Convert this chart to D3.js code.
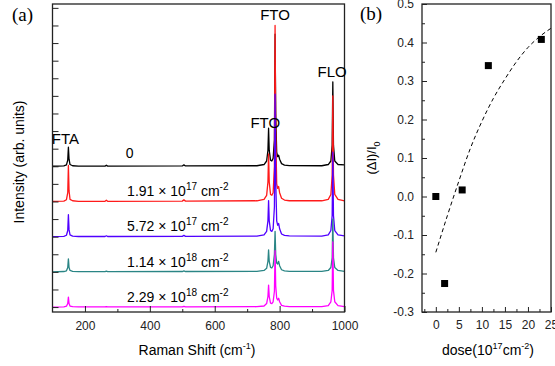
<!DOCTYPE html>
<html>
<head>
<meta charset="utf-8">
<script src="https://cdn.jsdelivr.net/npm/d3@7"></script>
<style>
  body { margin: 0; background: #fff; }
  text { font-family: "Liberation Sans", Arial, sans-serif; }
</style>
</head>
<body>
<div id="chart"></div>
<script>
// Raman shift grid (cm-1) shared by all spectra
var shift = [100, 135, 143, 147, 149, 151, 154, 162, 180,
             262, 266, 270, 500, 505, 510,
             730, 752, 760, 764, 766, 768, 772, 776, 780, 784, 786, 788, 791, 794, 797, 800, 806, 815, 830,
             930, 950, 958, 962, 964, 966, 970, 980, 1000];

// intensities above each spectrum's own baseline
var spec0 = [0, 0.02, 0.08, 0.35, 1.08, 0.4, 0.1, 0.03, 0.01,
             0.01, 0.06, 0.01, 0.02, 0.08, 0.02,
             0.03, 0.1, 0.3, 0.9, 2.16, 0.9, 0.35, 0.3, 0.45, 1.5, 7.5, 3.0, 0.8, 0.55, 0.63, 0.4, 0.15, 0.07, 0.04,
             0.03, 0.1, 0.3, 1.2, 4.8, 1.2, 0.3, 0.1, 0.08];
var spec191 = [0, 0.02, 0.1, 0.5, 2.05, 0.6, 0.12, 0.04, 0.01,
               0.01, 0.07, 0.01, 0.02, 0.09, 0.02,
               0.04, 0.12, 0.35, 1.1, 2.7, 1.1, 0.4, 0.35, 0.5, 2.0, 10, 4.0, 1.0, 0.75, 0.85, 0.5, 0.18, 0.08, 0.04,
               0.04, 0.12, 0.4, 1.5, 6.0, 1.5, 0.4, 0.12, 0.04];
var spec572 = [0, 0.02, 0.08, 0.35, 1.25, 0.4, 0.1, 0.03, 0.01,
               0.01, 0.05, 0.01, 0.02, 0.07, 0.02,
               0.03, 0.1, 0.3, 0.9, 2.05, 0.9, 0.35, 0.3, 0.45, 1.7, 8.1, 3.2, 0.9, 0.65, 0.75, 0.45, 0.15, 0.07, 0.04,
               0.03, 0.1, 0.35, 1.2, 4.8, 1.2, 0.35, 0.1, 0.04];
var spec114 = [0, 0.02, 0.06, 0.25, 0.74, 0.25, 0.08, 0.03, 0.01,
               0.01, 0.04, 0.01, 0.02, 0.05, 0.02,
               0.03, 0.08, 0.2, 0.6, 1.25, 0.6, 0.25, 0.22, 0.35, 1.0, 2.3, 1.0, 0.5, 0.45, 0.6, 0.35, 0.12, 0.06, 0.03,
               0.03, 0.08, 0.25, 0.8, 3.0, 0.8, 0.25, 0.08, 0.03];
var spec229 = [0, 0.01, 0.05, 0.2, 0.57, 0.2, 0.06, 0.02, 0.01,
               0.01, 0.03, 0.01, 0.01, 0.04, 0.01,
               0.02, 0.06, 0.2, 0.6, 1.25, 0.6, 0.22, 0.2, 0.3, 0.9, 3.2, 1.2, 0.5, 0.4, 0.5, 0.3, 0.1, 0.05, 0.03,
               0.02, 0.08, 0.3, 0.95, 3.7, 0.95, 0.3, 0.08, 0.03];

var spectra = [spec0, spec191, spec572, spec114, spec229];
var offsets = [8, 6, 4, 2, 0];
var colors = ["#000000", "#ff1a1a", "#5000ff", "#2a8585", "#ff00ff"];
var doseMant = ["1.91", "5.72", "1.14", "2.29"];
var doseExp = ["17", "17", "18", "18"];

// panel (b)
var dose = [0, 1.91, 5.72, 11.4, 22.9];
var ratio = [0, -0.226, 0.017, 0.34, 0.408];
var fitDose = [0, 2.5, 5, 7.5, 10, 12.5, 15, 17.5, 20, 22.5, 25];
var fitRatio = [-0.145, -0.05, 0.04, 0.125, 0.195, 0.255, 0.305, 0.35, 0.387, 0.415, 0.437];

var W = 555, H = 366;
var svg = d3.select("#chart").append("svg")
    .attr("width", W)
    .attr("height", H);

// ---------- panel (a) ----------
var x = d3.scaleLinear().domain([100, 1000]).range([52.5, 344.5]);
var y = d3.scaleLinear().domain([-0.28, 17.22]).range([312, 4]);

var line = d3.line()
    .x(function(d) { return x(d[0]); })
    .y(function(d) { return y(d[1]); });

spectra.forEach(function(s, i) {
  var pts = shift.map(function(v, j) { return [v, s[j] + offsets[i]]; });
  svg.append("path")
    .datum(pts)
    .attr("fill", "none")
    .attr("stroke", colors[i])
    .attr("stroke-width", 1.3)
    .attr("stroke-linejoin", "round")
    .attr("d", line);
});

svg.append("g").attr("transform", "translate(0,312)")
    .call(d3.axisBottom(x).tickValues([200, 400, 600, 800, 1000]).tickSize(-6).tickPadding(9)
      .tickFormat(d3.format("d")));
svg.append("g").attr("transform", "translate(0,312)")
    .call(d3.axisBottom(x).tickValues([300, 500, 700, 900]).tickSize(-3).tickFormat(""));
svg.append("g").attr("transform", "translate(52.5,0)")
    .call(d3.axisLeft(y).tickValues(d3.range(0, 18)).tickSize(-6).tickFormat(""));

svg.append("rect")
    .attr("x", x(100)).attr("y", y(17.22))
    .attr("width", x(1000) - x(100)).attr("height", y(-0.28) - y(17.22))
    .attr("fill", "none").attr("stroke", "#222").attr("stroke-width", 1.3);

// peak labels
var pk = [["FTA", 140, 9.25], ["FTO", 756, 10.15], ["FTO", 786, 16.3], ["FLO", 962, 13.1]];
pk.forEach(function(p) {
  svg.append("text")
    .attr("x", x(p[1])).attr("y", y(p[2]))
    .attr("text-anchor", "middle")
    .attr("font-size", 15)
    .text(p[0]);
});

svg.append("text")
    .attr("x", x(338)).attr("y", y(8.45))
    .attr("text-anchor", "middle")
    .attr("font-size", 14)
    .text("0");

doseMant.forEach(function(m, i) {
  var t = svg.append("text")
    .attr("x", x(330)).attr("y", y(offsets[i + 1] + 0.3))
    .attr("font-size", 14);
  t.append("tspan").text(m + " \u00d7 10");
  t.append("tspan").attr("dy", -6).attr("font-size", 10).text(doseExp[i]);
  t.append("tspan").attr("dy", 6).text(" cm");
  t.append("tspan").attr("dy", -6).attr("font-size", 10).text("-2");
});

svg.append("text")
    .attr("transform", "translate(24,162) rotate(-90)")
    .attr("text-anchor", "middle")
    .attr("font-size", 14)
    .text("Intensity (arb. units)");

var xl = svg.append("text")
    .attr("x", 197).attr("y", 355)
    .attr("text-anchor", "middle")
    .attr("font-size", 14);
xl.append("tspan").text("Raman Shift (cm");
xl.append("tspan").attr("dy", -6).attr("font-size", 9).text("-1");
xl.append("tspan").attr("dy", 6).text(")");

svg.append("text")
    .attr("x", 12).attr("y", 21)
    .attr("font-size", 19)
    .style("font-family", "'Liberation Serif', 'Times New Roman', serif")
    .text("(a)");

// ---------- panel (b) ----------
var xb = d3.scaleLinear().domain([-3, 25]).range([422, 551]);
var yb = d3.scaleLinear().domain([-0.3, 0.5]).range([312, 4]);

svg.append("g").attr("transform", "translate(0,312)")
    .call(d3.axisBottom(xb).tickValues([0, 5, 10, 15, 20, 25]).tickSize(-5).tickPadding(8));
svg.append("g").attr("transform", "translate(0,312)")
    .call(d3.axisBottom(xb).tickValues([-2.5, 2.5, 7.5, 12.5, 17.5, 22.5]).tickSize(-3).tickFormat(""));
svg.append("g").attr("transform", "translate(422,0)")
    .call(d3.axisLeft(yb).tickValues(d3.range(-3, 6).map(function(d) { return d / 10; }))
      .tickSize(-5).tickPadding(8).tickFormat(function(d) { return d.toFixed(1); }));
svg.append("g").attr("transform", "translate(422,0)")
    .call(d3.axisLeft(yb).tickValues(d3.range(-3, 5).map(function(d) { return d / 10 + 0.05; }))
      .tickSize(-3).tickFormat(""));

svg.append("rect")
    .attr("x", xb(-3)).attr("y", yb(0.5))
    .attr("width", xb(25) - xb(-3)).attr("height", yb(-0.3) - yb(0.5))
    .attr("fill", "none").attr("stroke", "#222").attr("stroke-width", 1.3);

svg.append("path")
    .datum(fitDose.map(function(d, i) { return [d, fitRatio[i]]; }))
    .attr("fill", "none")
    .attr("stroke", "#000")
    .attr("stroke-width", 1)
    .attr("stroke-dasharray", "4,3")
    .attr("d", d3.line()
      .x(function(d) { return xb(d[0]); })
      .y(function(d) { return yb(d[1]); })
      .curve(d3.curveMonotoneX));

svg.selectAll(".pt")
    .data(dose)
    .enter()
    .append("rect")
      .attr("class", "pt")
      .attr("x", function(d) { return xb(d) - 3.5; })
      .attr("y", function(d, i) { return yb(ratio[i]) - 3.5; })
      .attr("width", 7)
      .attr("height", 7)
      .attr("fill", "#000");

var yl = svg.append("text")
    .attr("transform", "translate(376,158) rotate(-90)")
    .attr("text-anchor", "middle")
    .attr("font-size", 13);
yl.append("tspan").text("(\u0394I)/I");
yl.append("tspan").attr("dy", 4).attr("font-size", 9).text("0");

var dl = svg.append("text")
    .attr("x", 488).attr("y", 355)
    .attr("text-anchor", "middle")
    .attr("font-size", 14);
dl.append("tspan").text("dose(10");
dl.append("tspan").attr("dy", -6).attr("font-size", 9).text("17");
dl.append("tspan").attr("dy", 6).text("cm");
dl.append("tspan").attr("dy", -6).attr("font-size", 9).text("-2");
dl.append("tspan").attr("dy", 6).text(")");

svg.append("text")
    .attr("x", 360).attr("y", 20)
    .attr("font-size", 19)
    .style("font-family", "'Liberation Serif', 'Times New Roman', serif")
    .text("(b)");

// axis styling
svg.selectAll(".domain").remove();
svg.selectAll(".tick line").attr("stroke", "#222");
svg.selectAll(".tick text")
    .attr("font-size", 12)
    .attr("fill", "#222")
    .style("font-family", "'Liberation Sans', Arial, sans-serif");
</script>
</body>
</html>
